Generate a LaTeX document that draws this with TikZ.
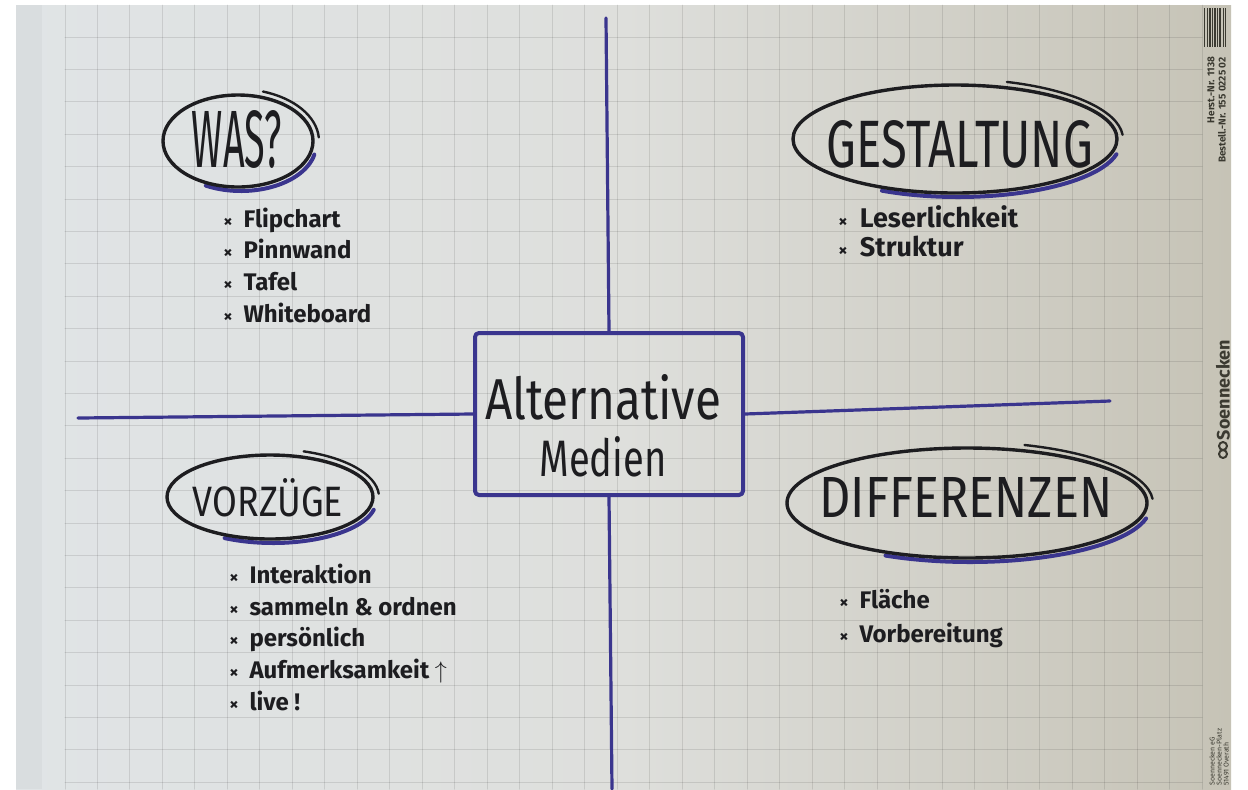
\documentclass[tikz,border=0pt]{standalone}
\usepackage{fontspec}
\setmainfont{Fira Sans}
\usepackage{graphicx}
\usepackage{tikz}
\usetikzlibrary{positioning}
\definecolor{fcPaperL}{HTML}{E0E4E6}
\definecolor{fcPaperM}{HTML}{DEDFDC}
\definecolor{fcPaperR}{HTML}{C6C3B6}
\definecolor{fcEdge}{HTML}{CCD1D4}
\definecolor{fcInk}{HTML}{1D1D20}
\definecolor{fcViolet}{HTML}{3A358E}
\definecolor{fcPrint}{HTML}{3B3A31}
% one unit of the picture is one pixel of the sheet
\newlength\pxu
\setlength\pxu{0.5pt}
\newcommand\penword[3]{\resizebox{#1\pxu}{#2\pxu}{#3}}
\newcommand\listmark{{\fontsize{9}{9}\selectfont ×}\hspace{0.45em}}
\tikzset{
  fc chart/.style={x=0.5pt, y=-0.5pt, text=fcInk,
    line cap=round, line join=round},
  fc grid/.style={draw=black, opacity=0.1, line width=0.5pt},
  fc pen/.style={draw=fcInk, line width=1.7pt},
  fc marker/.style={draw=fcViolet, line width=1.6pt},
  fc box/.style={draw=fcViolet, line width=2pt, rounded corners=2pt, inner sep=0pt},
  fc word/.style={inner sep=0pt, text=fcInk},
  fc item/.style={anchor=mid west, inner sep=0pt, font=\bfseries\fontsize{12}{14}\selectfont},
  fc print/.style={text=fcPrint, rotate=90, inner sep=0pt,
    font=\bfseries\fontsize{5}{6}\selectfont}
}

\begin{document}
\begin{tikzpicture}[fc chart]
\useasboundingbox (0,0) rectangle (1248,789);
\fill[white] (0,0) rectangle (1248,789);
% sheet of paper
\fill[left color=fcPaperL, right color=fcPaperR, middle color=fcPaperM] (16,5) rectangle (1231,789);
\fill[fcEdge, opacity=0.35] (16,5) rectangle (42,789);
% squared ruling
\foreach \k in {0,...,35}
  \draw[fc grid] ({65+32.486*\k},5) -- ({65+32.486*\k},789);
\foreach \k in {0,...,23}
  \draw[fc grid] (65,{37+32.4*\k}) -- (1202,{37+32.4*\k});

% centre box and the cross
\node[fc box, minimum width=134pt, minimum height=81pt] (medien) at (609,414) {};
\node[fc word, font=\fontsize{20}{28.5}\selectfont, align=center] (medien text) at (603,426)
  {\penword{236}{45}{Alternative}\\\penword{127}{40}{Medien}};
\coordinate (top end) at (606,18);
\coordinate (bottom end) at (612,789);
\coordinate (left end) at (78,418);
\coordinate (right end) at (1110,401);
\draw[fc marker] (medien.north) -- (top end);
\draw[fc marker] (medien.south) -- (bottom end);
\draw[fc marker] (medien.west) -- (left end);
\draw[fc marker] (medien.east) -- (right end);

% headings in ellipses
\foreach \nm/\cx/\cy/\rx/\ry/\tx/\ty/\tw/\th/\word in {
    was/238/141/75/46/237/139/90/57/{WAS?},
    gest/955/139/162/54/960/144/266/47/{GESTALTUNG},
    vorz/270/497/103/42/268/498/150/38/{VORZÜGE},
    diff/967/503/180/55/966/497/293/40/{DIFFERENZEN}}{
  \pgfmathsetmacro\ox{\rx+6}
  \pgfmathsetmacro\oy{\ry+6}
  \coordinate (\nm) at (\cx,\cy);
  \draw[fc marker, line width=2pt] ([shift={(3,4)}]\nm) ++(12:{\rx} and {\ry})
    arc [start angle=12, end angle=118, x radius=\rx, y radius=\ry];
  \draw[fc pen] (\nm) ellipse [x radius=\rx, y radius=\ry];
  \draw[fc pen, line width=1.2pt] (\nm) ++(-72:{\ox} and {\oy})
    arc [start angle=-72, end angle=-4, x radius=\ox, y radius=\oy];
  \node[fc word] (\nm-title) at (\tx,\ty) {\penword{\tw}{\th}{\word}};
}

% lists under the headings
\foreach \item [count=\i] in {Flipchart, Pinnwand, Tafel, Whiteboard}
  \node[fc item] (was-\i) at (223,{222+31.7*(\i-1)}) {\listmark\item};
\foreach \item [count=\i] in {Leserlichkeit, Struktur}
  \node[fc item, font=\bfseries\fontsize{13.5}{16}\selectfont] (gest-\i) at (838,{222+29*(\i-1)}) {\listmark\item};
\foreach \item [count=\i] in {Interaktion, sammeln \& ordnen, persönlich, Aufmerksamkeit $\uparrow$, live !}
  \node[fc item] (vorz-\i) at (229,{578+31.8*(\i-1)}) {\listmark\item};
\foreach \item [count=\i] in {Fläche, Vorbereitung}
  \node[fc item] (diff-\i) at (839,{603+34*(\i-1)}) {\listmark\item};

% printing on the margin of the pad
\foreach \bx/\bw in {1204/1.2,1206.5/0.8,1208.5/2,1212/1,1214/1.6,1217/0.8,1219/2.2,1222.5/1,1224.5/1.8}
  \fill[fcPrint] (\bx,8) rectangle ++(\bw,39);
\node[fc print] (herst) at (1211,90) {Herst.-Nr. 1138};
\node[fc print] (bestell) at (1222,110) {Bestell.-Nr. 155 0225 02};
\node[fc print, font=\bfseries\fontsize{9}{10}\selectfont] (brand) at (1223,390) {Soennecken};
\draw[fcPrint, line width=1pt] (1223,446) circle (4) (1223,454) circle (4);
\node[fc print, anchor=west, font=\fontsize{3.5}{4}\selectfont] (addr1) at (1212,786) {Soennecken eG};
\node[fc print, anchor=west, font=\fontsize{3.5}{4}\selectfont] (addr2) at (1219,786) {Soennecken-Platz};
\node[fc print, anchor=west, font=\fontsize{3.5}{4}\selectfont] (addr3) at (1226,786) {51491 Overath};
\end{tikzpicture}
\end{document}
